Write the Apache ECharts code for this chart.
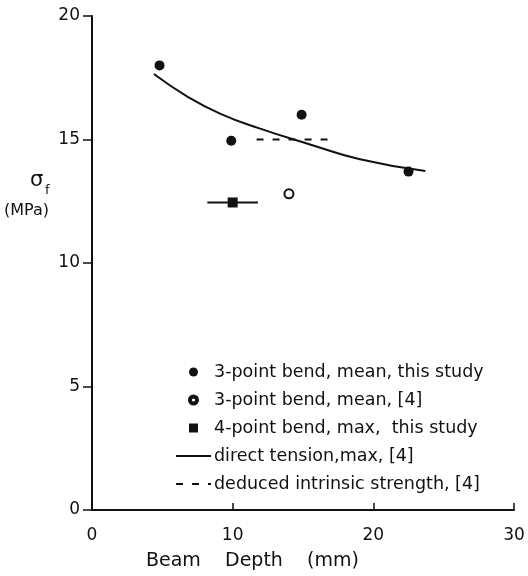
<!DOCTYPE html>
<html>
<head>
<meta charset="utf-8">
<script src="https://cdn.jsdelivr.net/npm/echarts@6/dist/echarts.min.js"></script>
<style>html,body{margin:0;padding:0;background:#fff}#c{width:528px;height:576px}</style>
</head>
<body>
<div id="c"></div>
<script>
// Data
var bend3ThisStudy = [[4.8, 18.0], [9.9, 14.95], [14.9, 16.0], [22.5, 13.7]];
var bend3Ref4 = [[14.0, 12.8]];
var bend4Max = [[10.0, 12.45]];
var bend4Range = [[8.2, 12.45], [11.8, 12.45]];
var directTension = [[4.4, 17.65], [6.75, 16.75], [9.1, 16.05], [11.9, 15.45], [15.5, 14.8], [19.05, 14.2], [23.7, 13.72]];
var intrinsic = [[11.7, 15.0], [17.1, 15.0]];
var xTicks = [0, 10, 20, 30];
var yTicks = [0, 5, 10, 15, 20];
var names = [
  '3-point bend, mean, this study',
  '3-point bend, mean, [4]',
  '4-point bend, max,  this study',
  'direct tension,max, [4]',
  'deduced intrinsic strength, [4]'
];

var font = 'DejaVu Sans';
var ink = '#111';
var chart = echarts.init(document.getElementById('c'));
chart.setOption({
  backgroundColor: '#fff',
  animation: false,
  textStyle: {fontFamily: font, color: ink},
  grid: {left: 92, right: 14, top: 16, bottom: 66},
  xAxis: {
    type: 'value', min: xTicks[0], max: xTicks[xTicks.length - 1], interval: 10,
    splitLine: {show: false},
    axisLine: {lineStyle: {color: ink, width: 2}},
    axisTick: {inside: true, length: 7, lineStyle: {color: ink, width: 1.5}},
    axisLabel: {fontSize: 17, color: ink, margin: 17, fontFamily: font}
  },
  yAxis: {
    type: 'value', min: yTicks[0], max: yTicks[yTicks.length - 1], interval: 5,
    splitLine: {show: false},
    axisLine: {show: true, lineStyle: {color: ink, width: 2}},
    axisTick: {show: true, length: 9, lineStyle: {color: ink, width: 1.5}},
    axisLabel: {fontSize: 17, color: ink, margin: 12, fontFamily: font}
  },
  legend: {
    left: 170, top: 358, orient: 'vertical',
    itemWidth: 35, itemHeight: 9, itemGap: 10,
    textStyle: {fontSize: 17.5, color: ink, fontFamily: font, padding: [0, 0, 0, -2]},
    data: [
      {name: names[0], icon: 'circle', itemStyle: {color: ink, opacity: 1}},
      {name: names[1], icon: 'path://M50 5A45 45 0 1 0 50 95A45 45 0 1 0 50 5ZM50 24A26 26 0 1 1 50 76A26 26 0 1 1 50 24Z',
       itemStyle: {color: ink, opacity: 1}},
      {name: names[2], icon: 'path://M0 0H10V10H0Z', itemStyle: {color: ink, opacity: 1}},
      {name: names[3], itemStyle: {opacity: 0}},
      {name: names[4], itemStyle: {opacity: 0}}
    ]
  },
  series: [
    {name: names[0], type: 'scatter', data: bend3ThisStudy, symbol: 'circle', symbolSize: 10,
     itemStyle: {color: ink, opacity: 1}},
    {name: names[1], type: 'scatter', data: bend3Ref4, symbol: 'emptyCircle', symbolSize: 9,
     itemStyle: {color: ink, borderColor: ink, borderWidth: 1.8, opacity: 1}},
    {name: 'range', type: 'line', data: bend4Range, symbol: 'none', silent: true,
     lineStyle: {color: ink, width: 2}},
    {name: names[2], type: 'scatter', data: bend4Max, symbol: 'rect', symbolSize: 10,
     itemStyle: {color: ink, opacity: 1}},
    {name: names[3], type: 'line', data: directTension, smooth: true, symbol: 'none',
     lineStyle: {color: ink, width: 2}, itemStyle: {color: ink}},
    {name: names[4], type: 'line', data: intrinsic, symbol: 'none',
     lineStyle: {color: ink, width: 2, type: [7, 9]}, itemStyle: {color: ink}}
  ],
  graphic: [
    {type: 'text', left: 30, top: 170, style: {text: 'σ', fontSize: 21, fontFamily: font, fill: ink}},
    {type: 'text', left: 45, top: 184, style: {text: 'f', fontSize: 13, fontFamily: font, fill: ink}},
    {type: 'text', left: 4, top: 203, style: {text: '(MPa)', fontSize: 16, fontFamily: font, fill: ink}},
    {type: 'text', left: 146, top: 552, style: {text: 'Beam    Depth    (mm)', fontSize: 19, fontFamily: font, fill: ink}}
  ]
});
</script>
</body>
</html>
